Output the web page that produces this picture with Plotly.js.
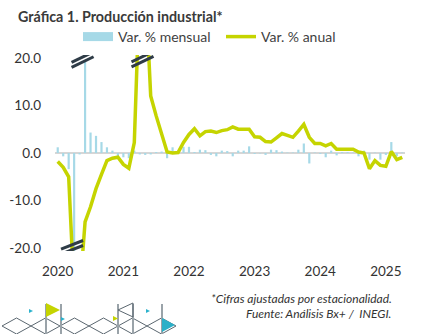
<!DOCTYPE html>
<html>
<head>
<meta charset="utf-8">
<script src="https://cdn.plot.ly/plotly-3.0.1.min.js"></script>
<style>html,body{margin:0;padding:0;background:#fff;}#chart{width:422px;height:334px;}</style>
</head>
<body>
<div id="chart"></div>
<script>
// ---- data (monthly, Jan 2020 - Apr 2025) ----
const years = ['2020','2021','2022','2023','2024','2025'];
const monthsPerYear = ['01','02','03','04','05','06','07','08','09','10','11','12'];
const lastMonthIndex = 4; // Apr 2025
const categories = [];
years.forEach((y, i) => {
  const n = (i === years.length - 1) ? lastMonthIndex : 12;
  for (let m = 0; m < n; m++) categories.push(y + '-' + monthsPerYear[m]);
});

const varMensual = [
  1.2, -0.7, -3.4, -25.0, -0.3, 19.2, 4.3, 3.6, 2.3, 1.2, 0.5, -0.7,
  -0.9, -1.1, 0.5, -0.3, -0.4, -0.3, 0.2, 0.3, -1.1, 1.2, 0.5, 1.3,
  1.3, 0.2, 0.7, 0.6, -0.4, -0.7, 0.5, 0.4, -0.7, 0.5, 0.5, 1.4,
  -0.2, -0.1, -0.4, 0.7, 0.6, 0.3, 0.1, 0.1, 0.7, 2.0, -2.2, 0.1,
  -0.2, -0.9, 0.5, -0.5, 0.2, 0.2, 0.1, -0.7, 0.5, -1.4, 0.1, -1.4,
  -0.4, 2.3, -0.7, 0.1
];
const varAnual = [
  -1.8, -3.0, -5.0, -29.5, -29.5, -14.5, -11.3, -7.5, -4.5, -1.6, -1.1, -0.9,
  -2.4, -3.2, 2.2, 36.0, 36.0, 12.0, 7.8, 4.0, 0.2, 0.0, 0.1, 2.2,
  3.9, 5.1, 3.6, 4.5, 4.6, 4.3, 4.7, 4.9, 5.5, 5.0, 5.0, 5.0,
  3.4, 3.3, 2.4, 2.3, 3.2, 4.1, 3.7, 3.3, 4.6, 6.0, 3.3, 2.0,
  2.0, 1.5, 2.0, 0.8, 0.8, 0.8, 0.8, 0.2, 0.0, -3.3, -1.6, -2.6,
  -2.8, 0.3, -1.4, -0.9
];
const yTicks = [-20, -10, 0, 10, 20];
const yTickText = ['-20.0', '-10.0', '0.0', '10.0', '20.0'];
const xTickVals = years.map(y => y + '-01');
const xTickText = years;

// ---- layout geometry ----
const W = 422, Hh = 334;
const M = {l: 55, r: 17, t: 55, b: 83};
const PW = W - M.l - M.r, PH = Hh - M.t - M.b;
const px = x => (x - M.l) / PW;
const py = y => (Hh - M.b - y) / PH;

const FONT = 'Lato, "Open Sans", sans-serif';
const colBar = '#a6d9e7';
const colLine = '#c5d400';
const colBreak = '#2f3c47';

// axis-break markers anchored to data categories / axis break level
const breakLevel = 20;
const breaks = [
  {cat: '2020-06', level: breakLevel, dx: -2.5, dy: -1.7, rise: 5.3},
  {cat: '2021-04', level: breakLevel, dx: 2.75, dy: -1.3, rise: 5.3},
  {cat: '2020-04', level: -breakLevel, dx: -2.1, dy: 0.85, rise: 4.3}
];
const shapes = [];
breaks.forEach(b => {
  [-2.5, 2.5].forEach(s => {
    shapes.push({type: 'line', xref: 'x', yref: 'y', xsizemode: 'pixel', ysizemode: 'pixel',
      xanchor: b.cat, yanchor: b.level,
      x0: b.dx - 11, x1: b.dx + 11, y0: b.dy + s - b.rise, y1: b.dy + s + b.rise,
      line: {color: colBreak, width: 3}, layer: 'above'});
  });
});

// decorative footer motif (page pixel coords)
function poly(pts, closed) {
  return pts.map((p, i) => (i ? 'L' : 'M') + px(p[0]).toFixed(4) + ',' + py(p[1]).toFixed(4)).join(' ') + (closed ? ' Z' : '');
}
const deco = [];
const diamondStarts = [2, 31, 60, 89, 118, 147];
diamondStarts.forEach(x0 => {
  deco.push({type: 'path', xref: 'paper', yref: 'paper', path: poly([[x0, 326], [x0 + 14.5, 318], [x0 + 29, 326], [x0 + 14.5, 334]], true),
    line: {color: '#5b6770', width: 1}});
});
[46, 61, 118, 133, 162].forEach(x => {
  deco.push({type: 'line', xref: 'paper', yref: 'paper', x0: px(x), x1: px(x), y0: py(304), y1: py(334), line: {color: '#9aa3a9', width: 2}});
});
const fills = [
  {pts: [[46, 303], [60, 310], [46, 317]], c: colLine},
  {pts: [[29, 309], [33, 311], [29, 313]], c: '#2bb2cc'},
  {pts: [[61, 317], [65, 319], [61, 321]], c: '#2bb2cc'},
  {pts: [[146, 309], [150, 311], [146, 313]], c: '#2bb2cc'},
  {pts: [[113, 316], [118, 318.5], [113, 321]], c: colLine},
  {pts: [[162, 318], [175, 325], [162, 332]], c: '#2bb0c8'}
];
fills.forEach(f => deco.push({type: 'path', xref: 'paper', yref: 'paper', path: poly(f.pts, true), fillcolor: f.c, line: {width: 0}}));
deco.push({type: 'path', xref: 'paper', yref: 'paper', path: poly([[133, 303], [118, 310], [133, 317]], true), line: {color: '#5b6770', width: 1}});

const traces = [
  {type: 'bar', name: 'Var. % mensual', x: categories, y: varMensual, marker: {color: colBar},
   showlegend: false, legendgroup: 'm', hoverinfo: 'x+y'},
  {type: 'scatter', mode: 'lines', name: 'Var. % mensual', x: [null], y: [null],
   line: {color: colBar, width: 9}, legendgroup: 'm', hoverinfo: 'skip'},
  {type: 'scatter', mode: 'lines', name: 'Var. % anual', x: categories, y: varAnual,
   line: {color: colLine, width: 3.5}}
];

const layout = {
  width: W, height: Hh,
  margin: M,
  paper_bgcolor: '#fff', plot_bgcolor: '#fff',
  font: {family: FONT, color: '#3a3a3a', size: 13},
  title: {text: '<b>Gráfica 1. Producción industrial*</b>', x: 18 / W, xanchor: 'left', xref: 'container',
          y: 1 - 17 / Hh, yanchor: 'middle', yref: 'container',
          font: {family: FONT, size: 14.3, color: '#3a3a3a'}},
  bargap: 0.6,
  showlegend: true,
  legend: {orientation: 'h', x: px(78), xanchor: 'left', y: py(37), yanchor: 'middle',
           font: {family: FONT, size: 14, color: '#3f3f3f'}, itemwidth: 30, entrywidth: 98,
           bgcolor: 'rgba(0,0,0,0)'},
  xaxis: {type: 'category', range: [-0.5, categories.length - 0.5], tickmode: 'array',
          tickvals: xTickVals, ticktext: xTickText, showgrid: false, zeroline: false, showline: false,
          ticks: '', ticklabelstandoff: 10, tickfont: {family: FONT, size: 13.5, color: '#333'}, fixedrange: true},
  yaxis: {range: [-20.6, 20.6], tickmode: 'array', tickvals: yTicks, ticktext: yTickText,
          showgrid: false, zeroline: true, zerolinecolor: '#d6d6d6', zerolinewidth: 1.5, showline: false,
          ticks: '', ticklabelstandoff: 13, tickfont: {family: FONT, size: 13.5, color: '#333'}, fixedrange: true},
  shapes: shapes.concat(deco),
  annotations: [
    {xref: 'paper', yref: 'paper', x: px(394), y: py(298), xanchor: 'right', yanchor: 'middle', showarrow: false,
     text: '*Cifras ajustadas por estacionalidad.', font: {family: FONT, size: 12, color: '#333', style: 'italic'}},
    {xref: 'paper', yref: 'paper', x: px(393), y: py(313), xanchor: 'right', yanchor: 'middle', showarrow: false,
     text: 'Fuente: Análisis Bx+ /  INEGI.', font: {family: FONT, size: 12, color: '#333', style: 'italic'}}
  ]
};

Plotly.newPlot('chart', traces, layout, {displayModeBar: false, staticPlot: true});
</script>
</body>
</html>
